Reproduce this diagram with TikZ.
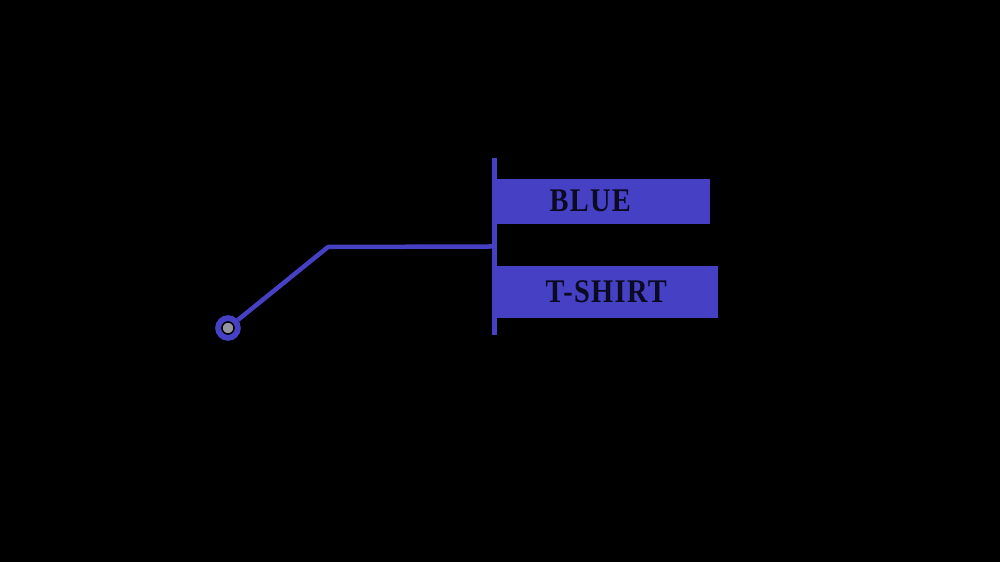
\documentclass[tikz,border=0pt]{standalone}
\usepackage{fontspec}
\setmainfont{Liberation Serif}
\definecolor{tblue}{RGB}{70,64,196}
\definecolor{tink}{RGB}{10,10,32}
\definecolor{dotgray}{RGB}{150,150,160}
\tikzset{
  labelbox/.style={rectangle, fill=tblue, inner sep=0, anchor=north west,
    text=tink, font=\bfseries\fontsize{9.4}{11}\selectfont\addfontfeature{FakeStretch=0.86,LetterSpace=4}},
  wire/.style={draw=tblue, line width=0.045cm, line join=round},
}
\begin{document}
\begin{tikzpicture}[x=0.01cm,y=-0.01cm]
\fill[black] (0,0) rectangle (1000,562);
\useasboundingbox (0,0) rectangle (1000,562);
% labels
\node[labelbox, minimum width=2.15cm, minimum height=0.45cm] (blue) at (494,178) {\hspace*{-0.24cm}BLUE};
\node[labelbox, minimum width=2.23cm, minimum height=0.52cm] (shirt) at (494,265) {T-SHIRT};
% vertical bar
\node[rectangle, fill=tblue, inner sep=0, minimum width=0.05cm, minimum height=1.77cm] (bar) at (494,246.5) {};
% pin
\node[circle, draw=tblue, line width=0.06cm, minimum size=0.195cm, inner sep=0] (dot) at (228,328) {};
\node[circle, fill=dotgray, draw=black, line width=0.4pt, minimum size=0.12cm, inner sep=0] (core) at (dot) {};
\coordinate (bend) at (328,247);
\draw[wire] (dot) -- (bend) -- (bar.center);
\end{tikzpicture}
\end{document}
